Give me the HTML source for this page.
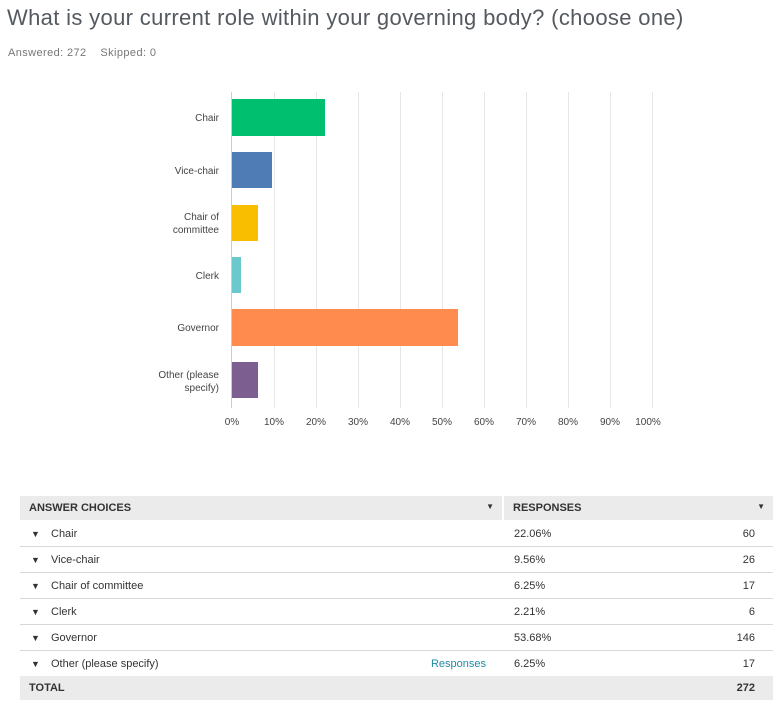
<!DOCTYPE html>
<html><head><style>
body{margin:0;background:#fff;font-family:"Liberation Sans",sans-serif;}
.t{position:absolute;left:7px;top:5px;font-size:22px;color:#555a60;white-space:nowrap;letter-spacing:0.34px}
.s{position:absolute;left:8px;top:47px;font-size:11px;color:#777;letter-spacing:0.4px}
table{position:absolute;left:20px;top:496px;width:753px;border-collapse:collapse;font-size:11px;color:#333}
td{height:25px;border-bottom:1px solid #d8d8d8;padding:0}
.h td{background:#ebebeb;font-weight:bold;border-bottom:1px solid #fff;height:24px}
.tot td{background:#ebebeb;font-weight:bold;border:none;height:24px}
.a{font-size:9px;color:#333;display:inline-block;width:31px;text-align:center}
</style></head><body>
<div class="t">What is your current role within your governing body? (choose one)</div>
<div class="s">Answered: 272 &nbsp;&nbsp;&nbsp;Skipped: 0</div>
<svg style="position:absolute;left:0;top:0" width="784" height="460" font-family="Liberation Sans, sans-serif" font-size="10" fill="#444">
<g stroke="#e6e6e6" stroke-width="1">
<line x1="274.5" y1="92" x2="274.5" y2="408"/><line x1="316.5" y1="92" x2="316.5" y2="408"/>
<line x1="358.5" y1="92" x2="358.5" y2="408"/><line x1="400.5" y1="92" x2="400.5" y2="408"/>
<line x1="442.5" y1="92" x2="442.5" y2="408"/><line x1="484.5" y1="92" x2="484.5" y2="408"/>
<line x1="526.5" y1="92" x2="526.5" y2="408"/><line x1="568.5" y1="92" x2="568.5" y2="408"/>
<line x1="610.5" y1="92" x2="610.5" y2="408"/><line x1="652.5" y1="92" x2="652.5" y2="408"/>
</g>
<line x1="231.5" y1="92" x2="231.5" y2="408" stroke="#ccc"/>
<rect x="232" y="99" width="93" height="37" fill="#00bf6f"/>
<rect x="232" y="152" width="40" height="36" fill="#507cb6"/>
<rect x="232" y="205" width="26" height="36" fill="#f9be00"/>
<rect x="232" y="257" width="9" height="36" fill="#6bc8cd"/>
<rect x="232" y="309" width="226" height="37" fill="#ff8b4f"/>
<rect x="232" y="362" width="26" height="36" fill="#7d5e90"/>
<g text-anchor="end">
<text x="219" y="121">Chair</text>
<text x="219" y="174">Vice-chair</text>
<text x="219" y="220">Chair of</text><text x="219" y="233">committee</text>
<text x="219" y="279">Clerk</text>
<text x="219" y="331">Governor</text>
<text x="219" y="378">Other (please</text><text x="219" y="391">specify)</text>
</g>
<g text-anchor="middle">
<text x="232" y="425">0%</text><text x="274" y="425">10%</text><text x="316" y="425">20%</text>
<text x="358" y="425">30%</text><text x="400" y="425">40%</text><text x="442" y="425">50%</text>
<text x="484" y="425">60%</text><text x="526" y="425">70%</text><text x="568" y="425">80%</text>
<text x="610" y="425">90%</text><text x="648" y="425">100%</text>
</g>
</svg>
<table>
<tr class="h"><td style="padding-left:9px;width:473px">ANSWER CHOICES<span style="float:right;margin-right:8px;font-size:8px">▼</span></td><td style="border-left:2px solid #fff;padding-left:9px">RESPONSES<span style="float:right;margin-right:8px;font-size:8px">▼</span></td></tr>
<tr><td><span class="a">▼</span>Chair</td><td style="padding-left:11px">22.06%<span style="float:right;margin-right:18px">60</span></td></tr>
<tr><td><span class="a">▼</span>Vice-chair</td><td style="padding-left:11px">9.56%<span style="float:right;margin-right:18px">26</span></td></tr>
<tr><td><span class="a">▼</span>Chair of committee</td><td style="padding-left:11px">6.25%<span style="float:right;margin-right:18px">17</span></td></tr>
<tr><td><span class="a">▼</span>Clerk</td><td style="padding-left:11px">2.21%<span style="float:right;margin-right:18px">6</span></td></tr>
<tr><td><span class="a">▼</span>Governor</td><td style="padding-left:11px">53.68%<span style="float:right;margin-right:18px">146</span></td></tr>
<tr><td style="border:none"><span class="a">▼</span>Other (please specify)<span style="float:right;margin-right:17px;color:#1f8ba5">Responses</span></td><td style="padding-left:11px;border:none">6.25%<span style="float:right;margin-right:18px">17</span></td></tr>
<tr class="tot"><td style="padding-left:9px">TOTAL</td><td><span style="float:right;margin-right:18px">272</span></td></tr>
</table>
</body></html>
